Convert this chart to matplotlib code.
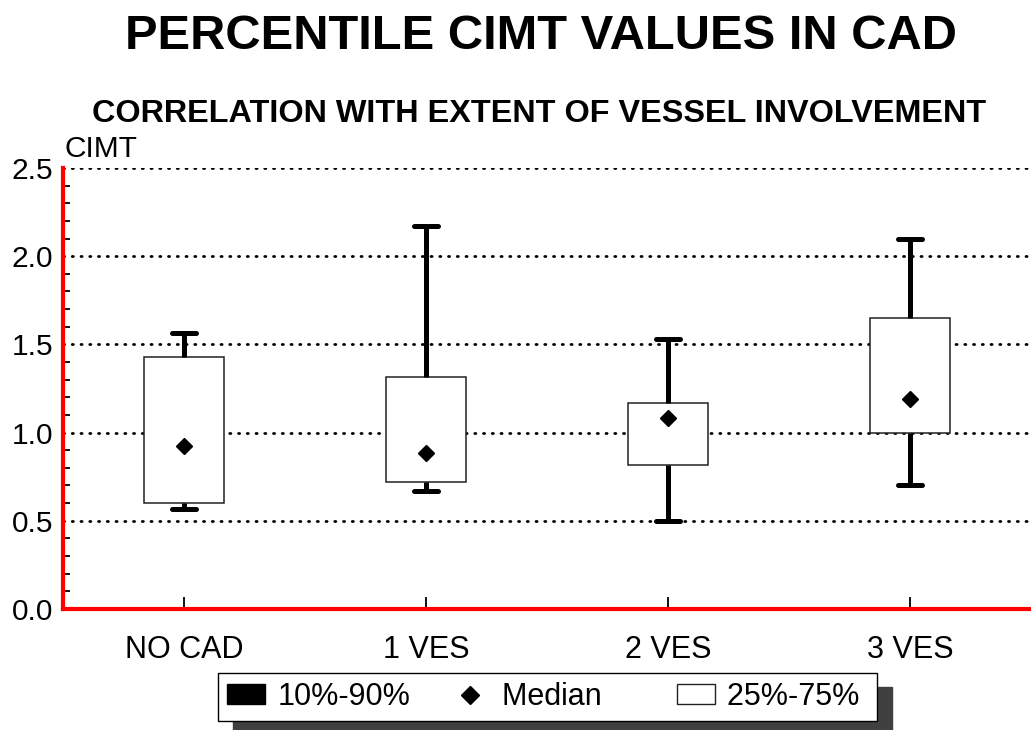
"""Percentile CIMT values in CAD, box chart by vessel involvement."""

import matplotlib
matplotlib.use("Agg")
import matplotlib.pyplot as plt
from matplotlib.patches import Patch
from matplotlib.lines import Line2D

groups = ["NO CAD", "1 VES", "2 VES", "3 VES"]
p10 = [0.567, 0.666, 0.499, 0.700]
p25 = [0.600, 0.717, 0.817, 0.998]
median = [0.925, 0.883, 1.082, 1.190]
p75 = [1.429, 1.314, 1.165, 1.649]
p90 = [1.567, 2.172, 1.531, 2.097]

y_ticks = [0.0, 0.5, 1.0, 1.5, 2.0, 2.5]

plt.rcParams['font.family'] = ['Liberation Sans', 'DejaVu Sans']

fig = plt.figure(figsize=(10.31, 7.30), dpi=100)
ax = fig.add_axes([0.0611, 0.1658, 0.9389, 0.6041])

positions = list(range(len(groups)))
stats = []
for i in positions:
    stats.append({"med": median[i], "q1": p25[i], "q3": p75[i],
                  "whislo": p10[i], "whishi": p90[i], "fliers": []})

ax.bxp(stats, positions=positions, widths=0.334, capwidths=0.1,
       patch_artist=True, showfliers=False,
       boxprops=dict(facecolor="white", edgecolor="#222222", linewidth=1.1),
       whiskerprops=dict(color="black", linewidth=3.6, solid_capstyle="butt"),
       capprops=dict(color="black", linewidth=3.6, solid_capstyle="round"),
       medianprops=dict(linewidth=0), zorder=3)

# median shown as a diamond
ax.plot(positions, median, linestyle="none", marker="D", markersize=8.3,
        color="black", zorder=4)

ax.set_xlim(-0.5, 3.5)
ax.set_ylim(0, 2.5)
ax.set_xticks(positions)
ax.set_xticklabels(groups, fontsize=22)
ax.set_yticks(y_ticks)
ax.set_yticklabels([f"{v:.1f}" for v in y_ticks], fontsize=21.5)
ax.set_yticks([v / 10 for v in range(26)], minor=True)

ax.yaxis.grid(True, which="major", color="black", linestyle=(0, (0.4, 2.75)),
              linewidth=2.0, dash_capstyle="round")
ax.set_axisbelow(True)

ax.tick_params(axis="y", which="major", length=0, pad=7)
ax.tick_params(axis="y", which="minor", direction="in", length=5, width=1.3, color="black")
ax.tick_params(axis="x", which="major", direction="in", length=9, width=1.3, pad=19)

for side in ["top", "right"]:
    ax.spines[side].set_visible(False)
for side in ["left", "bottom"]:
    ax.spines[side].set_color("red")
    ax.spines[side].set_linewidth(3)
    ax.spines[side].set_zorder(5)

ax.text(0.002, 1.025, "CIMT", transform=ax.transAxes, ha="left", va="baseline",
        fontsize=21.5)

fig.text(0.525, 0.933, "PERCENTILE CIMT VALUES IN CAD", ha="center", va="baseline",
         fontsize=35.2, fontweight="bold")
fig.text(0.523, 0.833, "CORRELATION WITH EXTENT OF VESSEL INVOLVEMENT", ha="center",
         va="baseline", fontsize=23.3, fontweight="bold")

handles = [Patch(facecolor="black", edgecolor="black"),
           Line2D([], [], linestyle="none", marker="D", markersize=8.7, color="black"),
           Patch(facecolor="white", edgecolor="#222222", linewidth=1)]
# trailing spaces widen entries, like the uneven spacing of the original
labels = ["10%-90%", "Median    ", "25%-75% "]
fig.legend(handles, labels, loc="center left", bbox_to_anchor=(218 / 1031, 0.0452),
           borderaxespad=0, ncol=3,
           fontsize=22, frameon=True, fancybox=False, framealpha=1, edgecolor="black",
           handlelength=1.25, handleheight=0.62, handletextpad=0.4, columnspacing=1.34,
           borderpad=0.3,
           shadow={"ox": 11, "oy": -10, "color": "#404040", "alpha": 1})

fig.savefig("out.png", dpi=100)
